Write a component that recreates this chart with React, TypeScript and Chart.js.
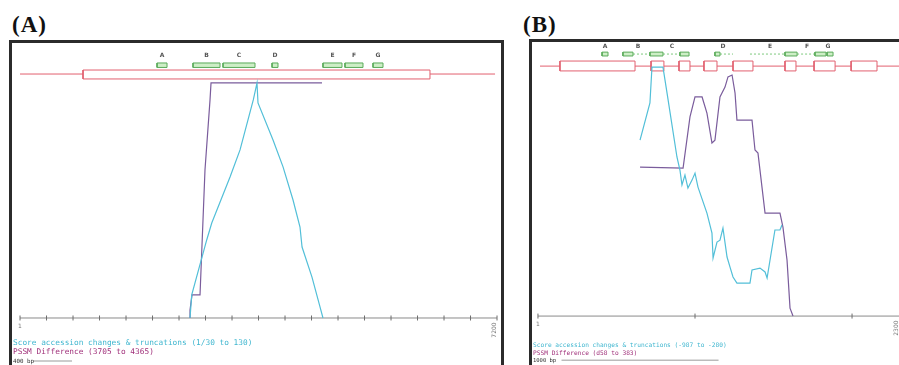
import React, { useEffect, useRef } from 'react';
import { Chart, registerables } from 'chart.js';
Chart.register(...registerables);

// ---------------- Panel A data ----------------
const axisTicksA = [0, 400, 800, 1200, 1600, 2000, 2400, 2800, 3200, 3600, 4000, 4400, 4800, 5200, 5600, 6000, 6400, 6800, 7200];
const axisEndLabelsA = ['1', '7200'];
const scoreAX = [2566, 2592, 2818, 2894, 3170, 3321, 3521, 3577, 3592, 3819, 3970, 4121, 4226, 4257, 4407, 4528, 4573];
const scoreAY = [0, 9.8, 33.2, 40.4, 60, 71.5, 92.8, 100, 91.5, 75.7, 64.3, 50.2, 38.7, 30.2, 17.4, 4.7, 0];
const pssmAX = [2566, 2566, 2596, 2717, 2792, 2868, 2883, 4558];
const pssmAY = [0, 3.4, 9.8, 9.8, 63, 92.8, 100, 100];
const geneSpanA = [0, 7170];
const exonStartA = [951];
const exonEndA = [6188];
const featStartA = [2068, 2611, 3064, 3804, 4573, 4905, 5328];
const featEndA = [2219, 3019, 3547, 3894, 4860, 5177, 5479];
const featLabelA = ['A', 'B', 'C', 'D', 'E', 'F', 'G'];
const connStartA: number[] = [];
const connEndA: number[] = [];
const scaleBarA = [196, 785];

// ---------------- Panel B data ----------------
const axisTicksB = [0, 1000, 2000];
const axisEndLabelsB = ['1', '2300'];
const scoreBX = [650, 713, 726, 796, 822, 885, 904, 917, 936, 955, 981, 1000, 1019, 1076, 1108, 1115, 1140, 1159, 1178, 1204, 1223, 1242, 1267, 1350, 1363, 1414, 1446, 1459, 1509, 1541, 1554];
const scoreBY = [73.0, 88.4, 103.3, 103.3, 92.5, 66.0, 60.6, 54.4, 58.5, 53.1, 56.4, 59.3, 53.5, 42.7, 34.4, 24.1, 30.7, 31.5, 36.5, 24.5, 20.3, 16.2, 13.7, 13.7, 19.1, 19.9, 18.3, 15.8, 35.7, 35.7, 37.8];
const pssmBX = [650, 924, 968, 1000, 1045, 1076, 1108, 1127, 1159, 1191, 1210, 1236, 1255, 1267, 1363, 1382, 1401, 1446, 1541, 1560, 1586, 1605, 1624];
const pssmBY = [61.8, 61.4, 82.6, 90.9, 90.9, 84.2, 71.8, 73.0, 90.9, 95.0, 99.2, 100, 92.5, 81.3, 81.3, 68.9, 67.6, 42.7, 42.7, 36.9, 23.2, 3.3, 0];
const geneSpanB = [13, 2300];
const exonStartB = [140, 720, 898, 1057, 1242, 1573, 1758, 1994];
const exonEndB = [618, 802, 968, 1140, 1369, 1643, 1892, 2159];
const featStartB = [408, 541, 713, 904, 1127, 1573, 1764, 1841];
const featEndB = [446, 605, 796, 962, 1159, 1650, 1834, 1879];
const featLabelXB = [427, 637, 853, 1178, 1478, 1713, 1847];
const featLabelB = ['A', 'B', 'C', 'D', 'E', 'F', 'G'];
const connStartB = [605, 796, 1159, 1350, 1650];
const connEndB = [713, 904, 1242, 1573, 1764];
const scaleBarB = [150, 1150];

const CYAN = '#52bfd8';
const PURPLE = '#7a5c9c';
const RED = '#e2606f';
const GREEN = '#5aab5a';
const GREEN_FILL = '#cdeec6';
const AXIS = '#8a8a8a';

type Track = { line: number; boxLo: number; boxHi: number; featLo: number; featHi: number; labelY: number };

type Spec = {
  xMin: number; xMax: number; yMin: number; yMax: number;
  ticks: number[]; endLabels: string[]; axisEnd: number;
  scoreX: number[]; scoreY: number[]; pssmX: number[]; pssmY: number[];
  geneSpan: number[]; exonStart: number[]; exonEnd: number[];
  featStart: number[]; featEnd: number[]; featLabelX: number[]; featLabel: string[];
  connStart: number[]; connEnd: number[]; scaleBar: number[]; scaleBarY: number;
  track: Track;
};

const zip = (xs: number[], ys: number[]) => xs.map((x, i) => ({ x, y: ys[i] }));

function lineDs(data: { x: number; y: number }[], color: string, width: number, order: number, extra: any = {}) {
  return {
    type: 'scatter',
    data,
    showLine: true,
    borderColor: color,
    backgroundColor: color,
    borderWidth: width,
    pointRadius: 0,
    pointHoverRadius: 0,
    fill: false,
    tension: 0,
    order,
    ...extra,
  };
}

function rectDs(x0: number, x1: number, y0: number, y1: number, color: string, fillColor: string | null, order: number) {
  return lineDs(
    [{ x: x0, y: y0 }, { x: x1, y: y0 }, { x: x1, y: y1 }, { x: x0, y: y1 }, { x: x0, y: y0 }],
    color, 1, order,
    fillColor ? { fill: 'shape', backgroundColor: fillColor } : {}
  );
}

function buildDatasets(s: Spec) {
  const t = s.track;
  const ds: any[] = [];
  // axis line + ticks
  ds.push(lineDs([{ x: 0, y: 0 }, { x: s.axisEnd, y: 0 }], AXIS, 1, 50));
  ds.push({
    type: 'scatter',
    data: s.ticks.map((x) => ({ x, y: 0 })),
    pointStyle: 'line',
    rotation: 90,
    pointRadius: 2.5,
    pointHoverRadius: 2.5,
    borderColor: '#6d6d6d',
    borderWidth: 1,
    showLine: false,
    order: 49,
  });
  // gene line split around exons
  const bounds: number[] = [s.geneSpan[0]];
  s.exonStart.forEach((st, i) => { bounds.push(st, s.exonEnd[i]); });
  bounds.push(s.geneSpan[1]);
  for (let i = 0; i < bounds.length; i += 2) {
    ds.push(lineDs([{ x: bounds[i], y: t.line }, { x: bounds[i + 1], y: t.line }], RED, 1, 40));
  }
  s.exonStart.forEach((st, i) => ds.push(rectDs(st, s.exonEnd[i], t.boxLo, t.boxHi, RED, null, 39)));
  // feature connectors and boxes
  const fm = (t.featLo + t.featHi) / 2;
  s.connStart.forEach((st, i) =>
    ds.push(lineDs([{ x: st, y: fm }, { x: s.connEnd[i], y: fm }], '#7cc97c', 1, 38, { borderDash: [2, 2] }))
  );
  s.featStart.forEach((st, i) => ds.push(rectDs(st, s.featEnd[i], t.featLo, t.featHi, GREEN, GREEN_FILL, 37)));
  // scale bar
  ds.push(lineDs([{ x: s.scaleBar[0], y: s.scaleBarY }, { x: s.scaleBar[1], y: s.scaleBarY }], '#9a9a9a', 1, 36));
  // data series
  ds.push(lineDs(zip(s.pssmX, s.pssmY), PURPLE, 1.2, 2));
  ds.push(lineDs(zip(s.scoreX, s.scoreY), CYAN, 1.2, 1));
  return ds;
}

function makeTextPlugin(s: Spec) {
  return {
    id: 'panelText',
    afterDatasetsDraw(chart: any) {
      const { ctx, scales } = chart;
      const xs = scales.x, ys = scales.y;
      ctx.save();
      ctx.fillStyle = '#555';
      ctx.font = 'bold 6px "DejaVu Sans"';
      ctx.textAlign = 'center';
      ctx.textBaseline = 'middle';
      s.featLabel.forEach((lab, i) => {
        ctx.fillText(lab, xs.getPixelForValue(s.featLabelX[i]), ys.getPixelForValue(s.track.labelY));
      });
      ctx.fillStyle = '#777';
      ctx.font = '6px "DejaVu Sans"';
      ctx.fillText(s.endLabels[0], xs.getPixelForValue(0), ys.getPixelForValue(0) + 8);
      const ex = xs.getPixelForValue(s.axisEnd);
      ctx.translate(Math.min(ex - 3, chart.width - 3), ys.getPixelForValue(0) + 12);
      ctx.rotate(-Math.PI / 2);
      ctx.fillText(s.endLabels[1], 0, 0);
      ctx.restore();
    },
  };
}

function PanelChart({ spec, left, top, width, height }: { spec: Spec; left: number; top: number; width: number; height: number }) {
  const ref = useRef<HTMLCanvasElement>(null);
  useEffect(() => {
    const chart = new Chart(ref.current as HTMLCanvasElement, {
      type: 'scatter',
      data: { datasets: buildDatasets(spec) as any },
      options: {
        animation: false,
        responsive: false,
        devicePixelRatio: 1,
        layout: { padding: 0, autoPadding: false },
        events: [],
        scales: {
          x: { type: 'linear', min: spec.xMin, max: spec.xMax, display: false },
          y: { type: 'linear', min: spec.yMin, max: spec.yMax, display: false },
        },
        plugins: { legend: { display: false }, tooltip: { enabled: false } },
      },
      plugins: [makeTextPlugin(spec)],
    } as any);
    return () => chart.destroy();
  }, [spec]);
  return <canvas ref={ref} width={width} height={height} style={{ position: 'absolute', left, top, width, height }} />;
}

const specA: Spec = {
  xMin: -121, xMax: 7260, yMin: -20, yMax: 117,
  ticks: axisTicksA, endLabels: axisEndLabelsA, axisEnd: 7200,
  scoreX: scoreAX, scoreY: scoreAY, pssmX: pssmAX, pssmY: pssmAY,
  geneSpan: geneSpanA, exonStart: exonStartA, exonEnd: exonEndA,
  featStart: featStartA, featEnd: featEndA,
  featLabelX: featStartA.map((s, i) => (s + featEndA[i]) / 2), featLabel: featLabelA,
  connStart: connStartA, connEnd: connEndA, scaleBar: scaleBarA, scaleBarY: -18.3,
  track: { line: 103.8, boxLo: 101.7, boxHi: 105.5, featLo: 106.6, featHi: 108.5, labelY: 111.5 },
};

const specB: Spec = {
  xMin: -38, xMax: 2299, yMin: -20.3, yMax: 113.7,
  ticks: axisTicksB, endLabels: axisEndLabelsB, axisEnd: 2300,
  scoreX: scoreBX, scoreY: scoreBY, pssmX: pssmBX, pssmY: pssmBY,
  geneSpan: geneSpanB, exonStart: exonStartB, exonEnd: exonEndB,
  featStart: featStartB, featEnd: featEndB, featLabelX: featLabelXB, featLabel: featLabelB,
  connStart: connStartB, connEnd: connEndB, scaleBar: scaleBarB, scaleBarY: -18.3,
  track: { line: 103.7, boxLo: 101.7, boxHi: 105.8, featLo: 107.9, featHi: 109.5, labelY: 112.0 },
};

const mono = '"DejaVu Sans Mono", "Liberation Mono", monospace';

type FLine = { text: string; color: string; size: number; top: number };

function Footer({ left, lines }: { left: number; lines: FLine[] }) {
  return (
    <>
      {lines.map((l, i) => (
        <div key={i} style={{ position: 'absolute', left, top: l.top, font: `${l.size}px ${mono}`, lineHeight: '8px', color: l.color, whiteSpace: 'nowrap' }}>
          {l.text}
        </div>
      ))}
    </>
  );
}

export default function App() {
  return (
    <div style={{ position: 'absolute', left: 0, top: 0, width: 899, height: 365, overflow: 'hidden', background: '#fff' }}>
      <div style={{ position: 'absolute', left: 12, top: 12, font: 'bold 23px "Liberation Serif", serif', letterSpacing: '1px', color: '#111' }}>(A)</div>
      <div style={{ position: 'absolute', left: 523, top: 12, font: 'bold 23px "Liberation Serif", serif', letterSpacing: '1px', color: '#111' }}>(B)</div>
      <div style={{ position: 'absolute', left: 9, top: 40, width: 495, height: 400, border: '3px solid #2b2b2b', boxSizing: 'border-box' }} />
      <div style={{ position: 'absolute', left: 529, top: 39, width: 400, height: 400, border: '3px solid #2b2b2b', boxSizing: 'border-box' }} />
      <PanelChart spec={specA} left={12} top={43} width={489} height={322} />
      <PanelChart spec={specB} left={532} top={42} width={367} height={323} />
      <Footer left={13} lines={[
        { text: 'Score accession changes & truncations (1/30 to 130)', color: '#3fb6cf', size: 7.8, top: 339 },
        { text: 'PSSM Difference (3705 to 4365)', color: '#a0307a', size: 7.8, top: 348 },
        { text: '400 bp', color: '#333', size: 5.8, top: 357 },
      ]} />
      <Footer left={533} lines={[
        { text: 'Score accession changes & truncations (-987 to -280)', color: '#3fb6cf', size: 6.2, top: 341 },
        { text: 'PSSM Difference (d58 to 383)', color: '#a0307a', size: 6.2, top: 348.5 },
        { text: '1000 bp', color: '#333', size: 5.5, top: 356 },
      ]} />
    </div>
  );
}
